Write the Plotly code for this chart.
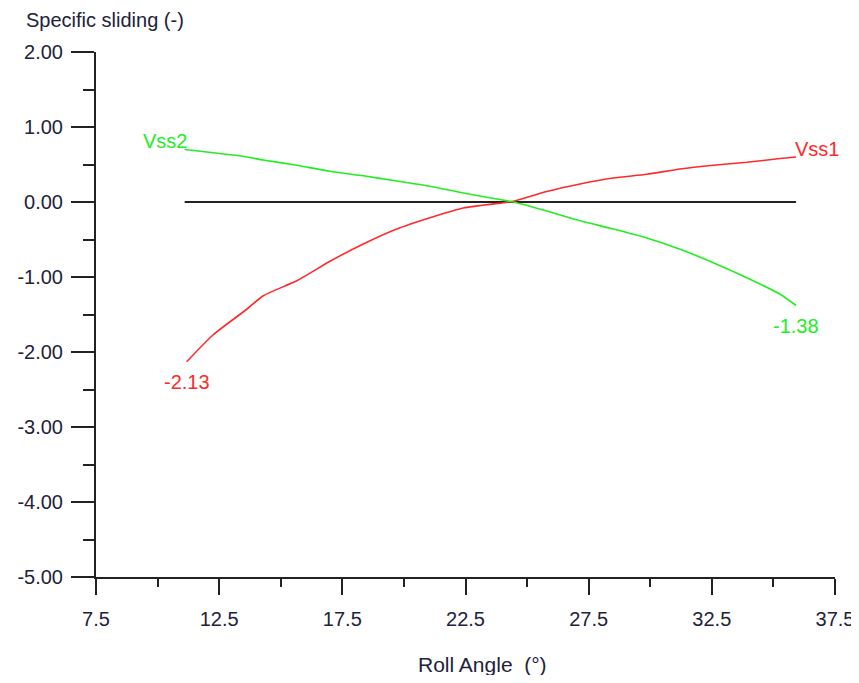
import plotly.graph_objects as go

# Data
vss1_x = [11.18, 12.26, 13.62, 14.29, 15.65, 17.0, 18.35, 19.71, 21.06, 22.41, 24.04, 24.44,
          25.8, 27.15, 28.5, 29.86, 31.21, 32.56, 33.92, 35.27, 35.92]
vss1_y = [-2.13, -1.77, -1.43, -1.25, -1.05, -0.79, -0.56, -0.36, -0.21, -0.08, -0.01, 0.01,
          0.14, 0.24, 0.32, 0.37, 0.44, 0.49, 0.53, 0.58, 0.60]
vss2_x = [11.1, 13.44, 14.29, 15.65, 17.0, 18.35, 19.71, 21.06, 22.41, 23.77, 24.44,
          25.8, 27.15, 28.5, 29.86, 31.21, 32.56, 33.92, 35.27, 35.92]
vss2_y = [0.70, 0.61, 0.56, 0.49, 0.41, 0.35, 0.28, 0.21, 0.12, 0.04, 0.0,
          -0.12, -0.25, -0.36, -0.48, -0.63, -0.81, -1.01, -1.23, -1.38]
zero_x = [vss2_x[0], vss1_x[-1]]
zero_y = [0, 0]

x_ticks = [7.5, 12.5, 17.5, 22.5, 27.5, 32.5, 37.5]
x_ticklabels = ["7.5", "12.5", "17.5", "22.5", "27.5", "32.5", "37.5"]
y_ticks = [2, 1, 0, -1, -2, -3, -4, -5]
y_ticklabels = ["2.00", "1.00", "0.00", "-1.00", "-2.00", "-3.00", "-4.00", "-5.00"]

RED = "#ff2a2a"
GREEN = "#22ee22"
FONT = "Liberation Sans"
TXT = "#22223a"
AX = "#222222"

fig = go.Figure()
fig.add_trace(go.Scatter(x=zero_x, y=zero_y, mode="lines",
                         line=dict(color=AX, width=2), showlegend=False))
fig.add_trace(go.Scatter(x=vss1_x, y=vss1_y, mode="lines", name="Vss1",
                         line=dict(color=RED, width=1.6, shape="spline", smoothing=0.6),
                         showlegend=False))
fig.add_trace(go.Scatter(x=vss2_x, y=vss2_y, mode="lines", name="Vss2",
                         line=dict(color=GREEN, width=1.6, shape="spline", smoothing=0.6),
                         showlegend=False))

ann = [
    dict(x=vss2_x[0], y=vss2_y[0], text="Vss2", xanchor="right", yanchor="middle",
         xshift=4, yshift=9, font=dict(color=GREEN)),
    dict(x=vss1_x[-1], y=vss1_y[-1], text="Vss1", xanchor="left", yanchor="middle",
         xshift=-3, yshift=8, font=dict(color=RED)),
    dict(x=vss1_x[0], y=vss1_y[0], text="%.2f" % vss1_y[0], xanchor="center", yanchor="middle",
         xshift=0, yshift=-20, font=dict(color=RED)),
    dict(x=vss2_x[-1], y=vss2_y[-1], text="%.2f" % vss2_y[-1], xanchor="center", yanchor="middle",
         xshift=0, yshift=-20, font=dict(color=GREEN)),
    dict(xref="paper", yref="paper", x=-0.098, y=1.061, text="Specific sliding (-)",
         xanchor="left", yanchor="middle", font=dict(color=TXT)),
    dict(xref="paper", yref="paper", x=0.433, y=-0.166, text="Roll Angle  (°)",
         xanchor="left", yanchor="middle", font=dict(color=TXT, size=21)),
]
for a in ann:
    a.setdefault("xref", "x")
    a.setdefault("yref", "y")
    a["showarrow"] = False
    a["font"].setdefault("size", 20)
    a["font"].update(family=FONT)

fig.update_layout(
    width=851, height=667,
    margin=dict(l=88, r=24, t=44, b=98),
    paper_bgcolor="white", plot_bgcolor="white",
    font=dict(family=FONT, size=20, color=TXT),
    annotations=ann,
    xaxis=dict(range=[7.5, 37.5], tickvals=x_ticks, ticktext=x_ticklabels,
               showgrid=False, zeroline=False, showline=True, linecolor=AX, linewidth=2,
               ticks="outside", ticklen=16, tickwidth=2, tickcolor=AX,
               minor=dict(dtick=2.5, tick0=7.5, ticks="outside", ticklen=8, tickwidth=2,
                          tickcolor=AX, showgrid=False),
               tickfont=dict(size=20), ticklabelstandoff=7, automargin=False,
               ticklabeloverflow="allow"),
    yaxis=dict(range=[-5, 2], tickvals=y_ticks, ticktext=y_ticklabels,
               showgrid=False, zeroline=False, showline=True, linecolor=AX, linewidth=2,
               ticks="outside", ticklen=23, tickwidth=2, tickcolor=AX,
               minor=dict(dtick=0.5, tick0=0, ticks="outside", ticklen=11, tickwidth=2,
                          tickcolor=AX, showgrid=False),
               tickfont=dict(size=20), ticklabelstandoff=4, automargin=False,
               ticklabeloverflow="allow"),
)

fig.write_html("out.html")
